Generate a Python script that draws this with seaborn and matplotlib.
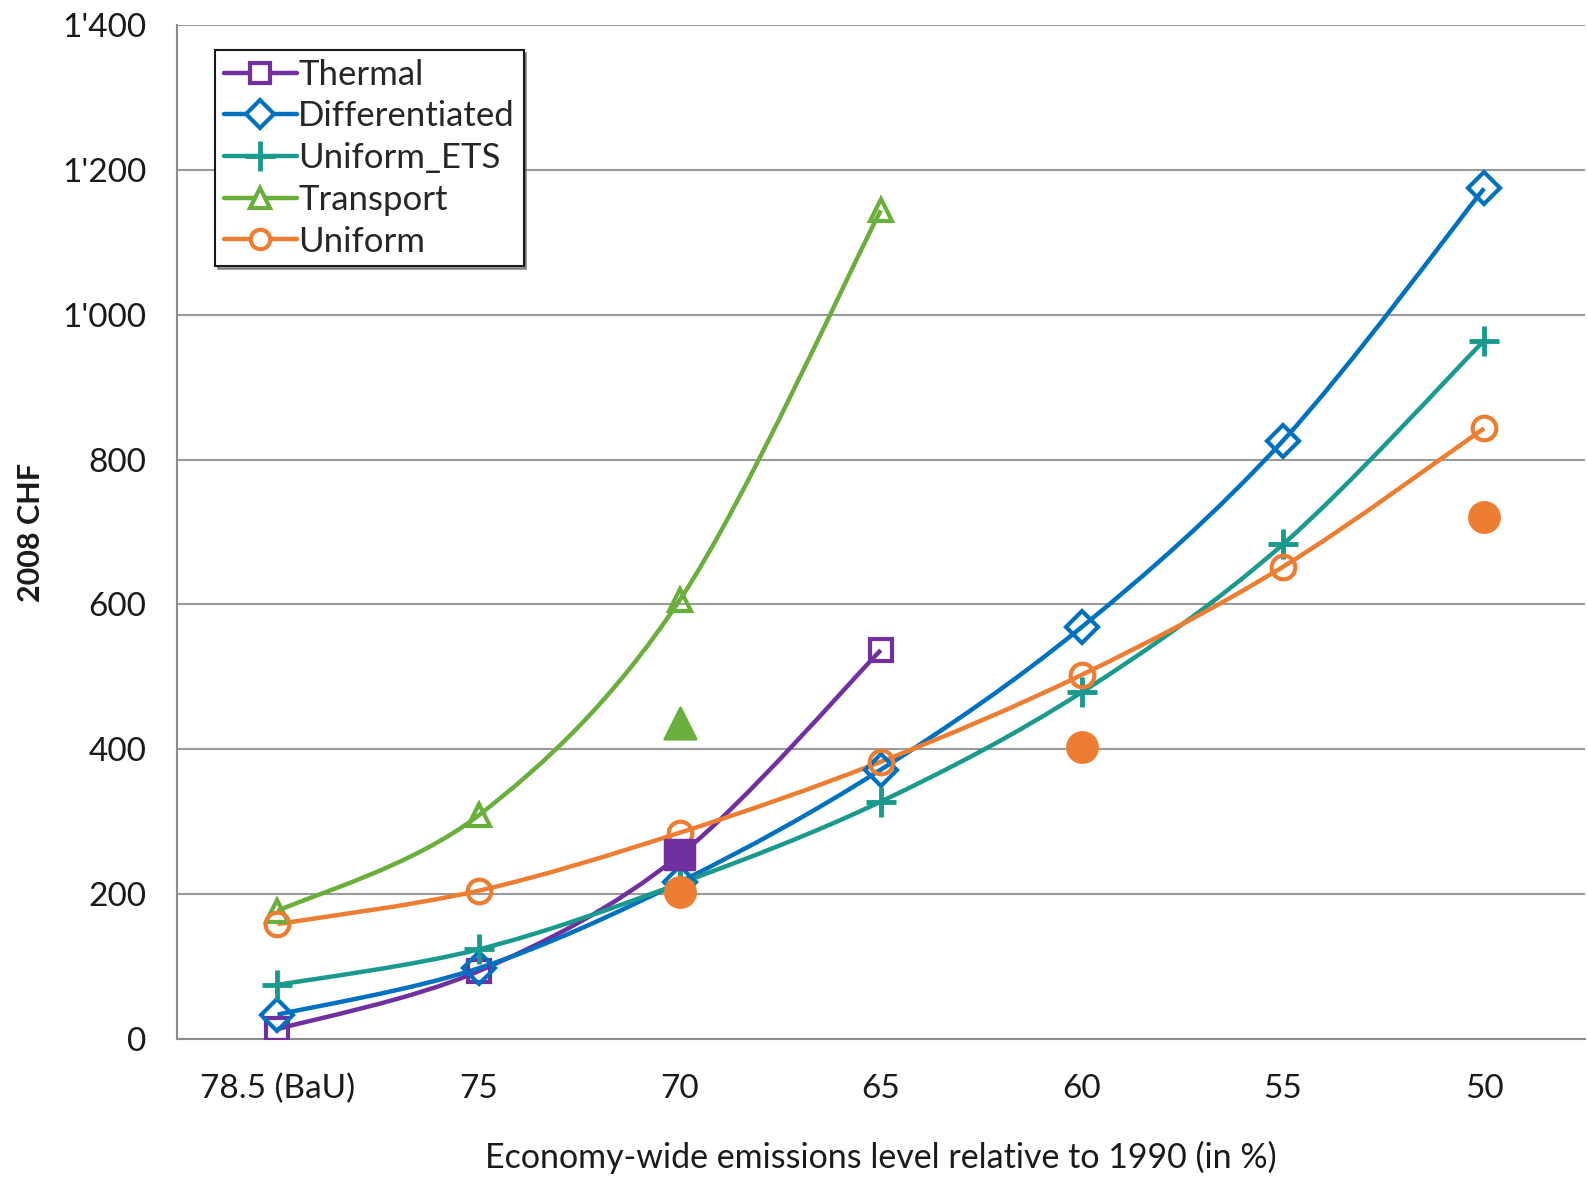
import numpy as np
import pandas as pd
import seaborn as sns
import matplotlib.pyplot as plt
from matplotlib.path import Path
from matplotlib.patches import PathPatch
from matplotlib.lines import Line2D

# Data (2008 CHF)
levels = ["78.5 (BaU)", "75", "70", "65", "60", "55", "50"]
thermal = [14, 94, 254, 537, np.nan, np.nan, np.nan]
differentiated = [34, 98, 217, 372, 569, 826, 1174]
uniform_ets = [75, 124, 215, 328, 479, 683, 964]
transport = [177, 309, 606, 1144, np.nan, np.nan, np.nan]
uniform = [159, 205, 285, 383, 503, 652, 843]

# single filled points
thermal_alt = [np.nan, np.nan, 254, np.nan, np.nan, np.nan, np.nan]
transport_alt = [np.nan, np.nan, 437, np.nan, np.nan, np.nan, np.nan]
uniform_alt = [np.nan, np.nan, 203, np.nan, 404, np.nan, 721]

series = {
    "Thermal": (thermal, "#7030A0", "s"),
    "Differentiated": (differentiated, "#0070C0", "D"),
    "Uniform_ETS": (uniform_ets, "#1A9A8C", "+"),
    "Transport": (transport, "#6AAF3C", "^"),
    "Uniform": (uniform, "#ED7D31", "o"),
}


def smooth_path(xs, ys):
    # Excel-like smoothed line: cubic bezier through the points
    pts = [(x, y) for x, y in zip(xs, ys) if not np.isnan(y)]
    p = np.array(pts, dtype=float)
    verts = [tuple(p[0])]
    codes = [Path.MOVETO]
    n = len(p)
    for i in range(n - 1):
        p0 = p[i - 1] if i > 0 else p[i]
        p1, p2 = p[i], p[i + 1]
        p3 = p[i + 2] if i + 2 < n else p[i + 1]
        c1 = p1 + (p2 - p0) / 6
        c2 = p2 - (p3 - p1) / 6
        verts += [tuple(c1), tuple(c2), tuple(p2)]
        codes += [Path.CURVE4] * 3
    return Path(verts, codes)


sns.set_style("white")
plt.rcParams['font.family'] = ['Lato', 'DejaVu Sans']

fig = plt.figure(figsize=(15.87, 11.77), dpi=100)
ax = fig.add_axes([0.1115, 0.117, 0.887, 0.862])

pos = np.arange(len(levels))
rows = []
for name, (vals, col, mk) in series.items():
    ax.add_patch(PathPatch(smooth_path(pos, vals), fill=False,
                           edgecolor=col, lw=3.2, zorder=3))
    for p_, v in zip(pos, vals):
        rows.append({"pos": p_, "value": v, "series": name})
df = pd.DataFrame(rows).dropna()

for name, (vals, col, mk) in series.items():
    sub = df[df["series"] == name]
    if mk == "+":
        ax.plot(sub["pos"], sub["value"], ls="none", marker="+", ms=21,
                mew=3.5, color=col, zorder=4)
    else:
        ax.plot(sub["pos"], sub["value"], ls="none", marker=mk,
                ms=17 if mk == "o" else 16, mew=3, mfc="none", mec=col, zorder=4)

alt = pd.DataFrame({"pos": pos, "Thermal": thermal_alt,
                    "Transport": transport_alt, "Uniform": uniform_alt})
sns.scatterplot(data=alt, x="pos", y="Thermal", marker="s", s=480,
                color="#7030A0", edgecolor="#7030A0", ax=ax, zorder=5)
sns.scatterplot(data=alt, x="pos", y="Transport", marker="^", s=520,
                color="#6AAF3C", edgecolor="#6AAF3C", ax=ax, zorder=5)
sns.scatterplot(data=alt, x="pos", y="Uniform", marker="o", s=480,
                color="#ED7D31", edgecolor="#ED7D31", ax=ax, zorder=5)

ax.set_xlim(-0.5, len(levels) - 0.5)
ax.set_ylim(0, 1400)
ax.set_yticks(np.arange(0, 1401, 200))
ax.set_yticklabels(["0", "200", "400", "600", "800", "1'000", "1'200", "1'400"])
ax.set_xticks(np.arange(-0.5, len(levels), 1))
ax.set_xticklabels([])
ax.set_xticks(pos, minor=True)
ax.set_xticklabels(levels, minor=True)
ax.tick_params(axis="x", which="major", length=11, width=1.5,
               color="#8C8C8C", direction="out")
ax.tick_params(axis="x", which="minor", length=0, pad=25,
               labelsize=24, labelcolor="#1A1A1A")
ax.tick_params(axis="y", length=10, width=1.5, color="#8C8C8C",
               direction="out", pad=12, labelsize=24, labelcolor="#1A1A1A")
ax.grid(axis="y", color="#9A9A9A", lw=1.5)
ax.set_axisbelow(True)
for s in ["top", "right"]:
    ax.spines[s].set_visible(False)
for s in ["left", "bottom"]:
    ax.spines[s].set_color("#8C8C8C")
    ax.spines[s].set_linewidth(1.5)

ax.set_xlabel("Economy-wide emissions level relative to 1990 (in %)",
              fontsize=24.5, color="#1A1A1A")
ax.xaxis.set_label_coords(0.5, -0.1)
ax.set_ylabel("2008 CHF", fontsize=22, fontweight="bold", color="#1A1A1A")
ax.yaxis.set_label_coords(-0.094, 0.5)

handles = []
for name, (vals, col, mk) in series.items():
    if mk == "+":
        handles.append(Line2D([], [], color=col, lw=3.2, marker="+", ms=21, mew=3.5))
    else:
        handles.append(Line2D([], [], color=col, lw=3.2, marker=mk, ms=14,
                              mew=3, mfc="white", mec=col))
leg = ax.legend(handles, list(series.keys()), loc="upper left",
                bbox_to_anchor=(0.027, 0.975), fontsize=25, frameon=True,
                fancybox=False, shadow=True, handlelength=2.1,
                handletextpad=0.05, labelspacing=0.28, borderpad=0.25,
                borderaxespad=0)
leg.get_frame().set_edgecolor("#1A1A1A")
leg.get_frame().set_linewidth(1.5)

fig.savefig("out.png", dpi=100)
